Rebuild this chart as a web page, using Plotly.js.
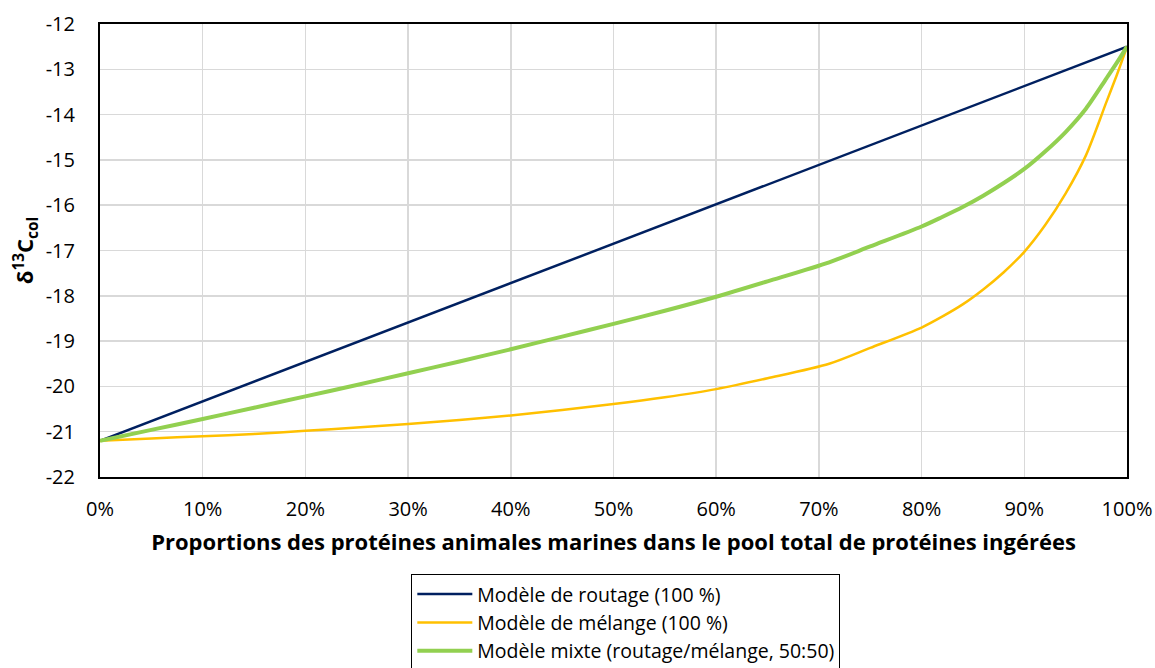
<!DOCTYPE html>
<html>
<head>
<meta charset="utf-8">
<script src="https://cdn.plot.ly/plotly-3.0.1.min.js"></script>
<style>html,body{margin:0;padding:0;background:#fff;}#chart{width:1155px;height:668px;}</style>
</head>
<body>
<div id="chart"></div>
<script>
// Proportion of marine animal proteins (%)
const proportions = [0, 5, 10, 15, 20, 25, 30, 35, 40, 45, 50, 55, 60, 65, 71, 75, 80, 82, 84, 86, 88, 90, 92, 94, 96, 98, 99, 100];
// Routing model (linear)
const routageX = [0, 10, 20, 30, 40, 50, 60, 70, 80, 90, 100];
const routageY = [-21.2, -20.33, -19.46, -18.59, -17.72, -16.85, -15.98, -15.11, -14.24, -13.37, -12.5];
// Mixing model
const melangeY = [-21.2, -21.15, -21.1, -21.05, -20.98, -20.91, -20.83, -20.74, -20.64, -20.52, -20.39, -20.24, -20.06, -19.82, -19.5, -19.15, -18.7, -18.46, -18.19, -17.86, -17.48, -17.03, -16.45, -15.75, -14.9, -13.72, -13.13, -12.5];
// Mixed model (50:50)
const mixteY = [-21.2, -20.96, -20.72, -20.47, -20.22, -19.97, -19.71, -19.45, -19.18, -18.9, -18.62, -18.33, -18.02, -17.68, -17.26, -16.91, -16.47, -16.26, -16.04, -15.79, -15.51, -15.2, -14.82, -14.39, -13.87, -13.2, -12.86, -12.5];

const yTickVals = [-22, -21, -20, -19, -18, -17, -16, -15, -14, -13, -12];
const yTickLabels = ["-22", "-21", "-20", "-19", "-18", "-17", "-16", "-15", "-14", "-13", "-12"];

const seriesNames = ["Modèle de routage (100 %)", "Modèle de mélange (100 %)", "Modèle mixte (routage/mélange, 50:50)"];
const xTitle = "Proportions des protéines animales marines dans le pool total de protéines ingérées";
const yTitle = "δ<sup>13</sup>C<sub>col</sub>";

const font = "'Open Sans', 'Noto Sans', sans-serif";

const traces = [
  {x: routageX, y: routageY, name: seriesNames[0], mode: "lines", line: {color: "#002060", width: 2.5}},
  {x: proportions, y: melangeY, name: seriesNames[1], mode: "lines", line: {color: "#FFC000", width: 2.5, shape: "spline", smoothing: 0.8}},
  {x: proportions, y: mixteY, name: seriesNames[2], mode: "lines", line: {color: "#92D050", width: 4, shape: "spline", smoothing: 0.8}}
];

const layout = {
  width: 1155, height: 668,
  margin: {l: 100, r: 28, t: 24, b: 191, autoexpand: false},
  paper_bgcolor: "#fff", plot_bgcolor: "#fff",
  font: {family: font, size: 20, color: "#000"},
  showlegend: true,
  legend: {
    x: 0.512, xanchor: "center", y: -0.214, yanchor: "top",
    orientation: "v", bordercolor: "#000", borderwidth: 1,
    font: {family: font, size: 19.5, color: "#000"},
    itemwidth: 55, tracegroupgap: 0, bgcolor: "#fff"
  },
  xaxis: {
    range: [0, 100], dtick: 10, tick0: 0, ticksuffix: "%",
    showgrid: true, gridcolor: "#d9d9d9", gridwidth: 1.5,
    showline: true, linecolor: "#000", linewidth: 2, mirror: true,
    zeroline: false,
    ticks: "outside", ticklen: 13, tickcolor: "rgba(0,0,0,0)",
    tickfont: {family: font, size: 20},
    title: {text: "<b>" + xTitle + "</b>", font: {family: font, size: 22}, standoff: 14}
  },
  yaxis: {
    range: [-22, -12], tickmode: "array", tickvals: yTickVals, ticktext: yTickLabels,
    showgrid: true, gridcolor: "#d9d9d9", gridwidth: 1.5,
    showline: true, linecolor: "#000", linewidth: 2, mirror: true,
    zeroline: false,
    ticks: "outside", ticklen: 19, tickcolor: "rgba(0,0,0,0)",
    tickfont: {family: font, size: 20},
    title: {text: "<b>" + yTitle + "</b>", font: {family: font, size: 22}, standoff: 6}
  }
};

Plotly.newPlot("chart", traces, layout, {displayModeBar: false, staticPlot: true});
</script>
</body>
</html>
